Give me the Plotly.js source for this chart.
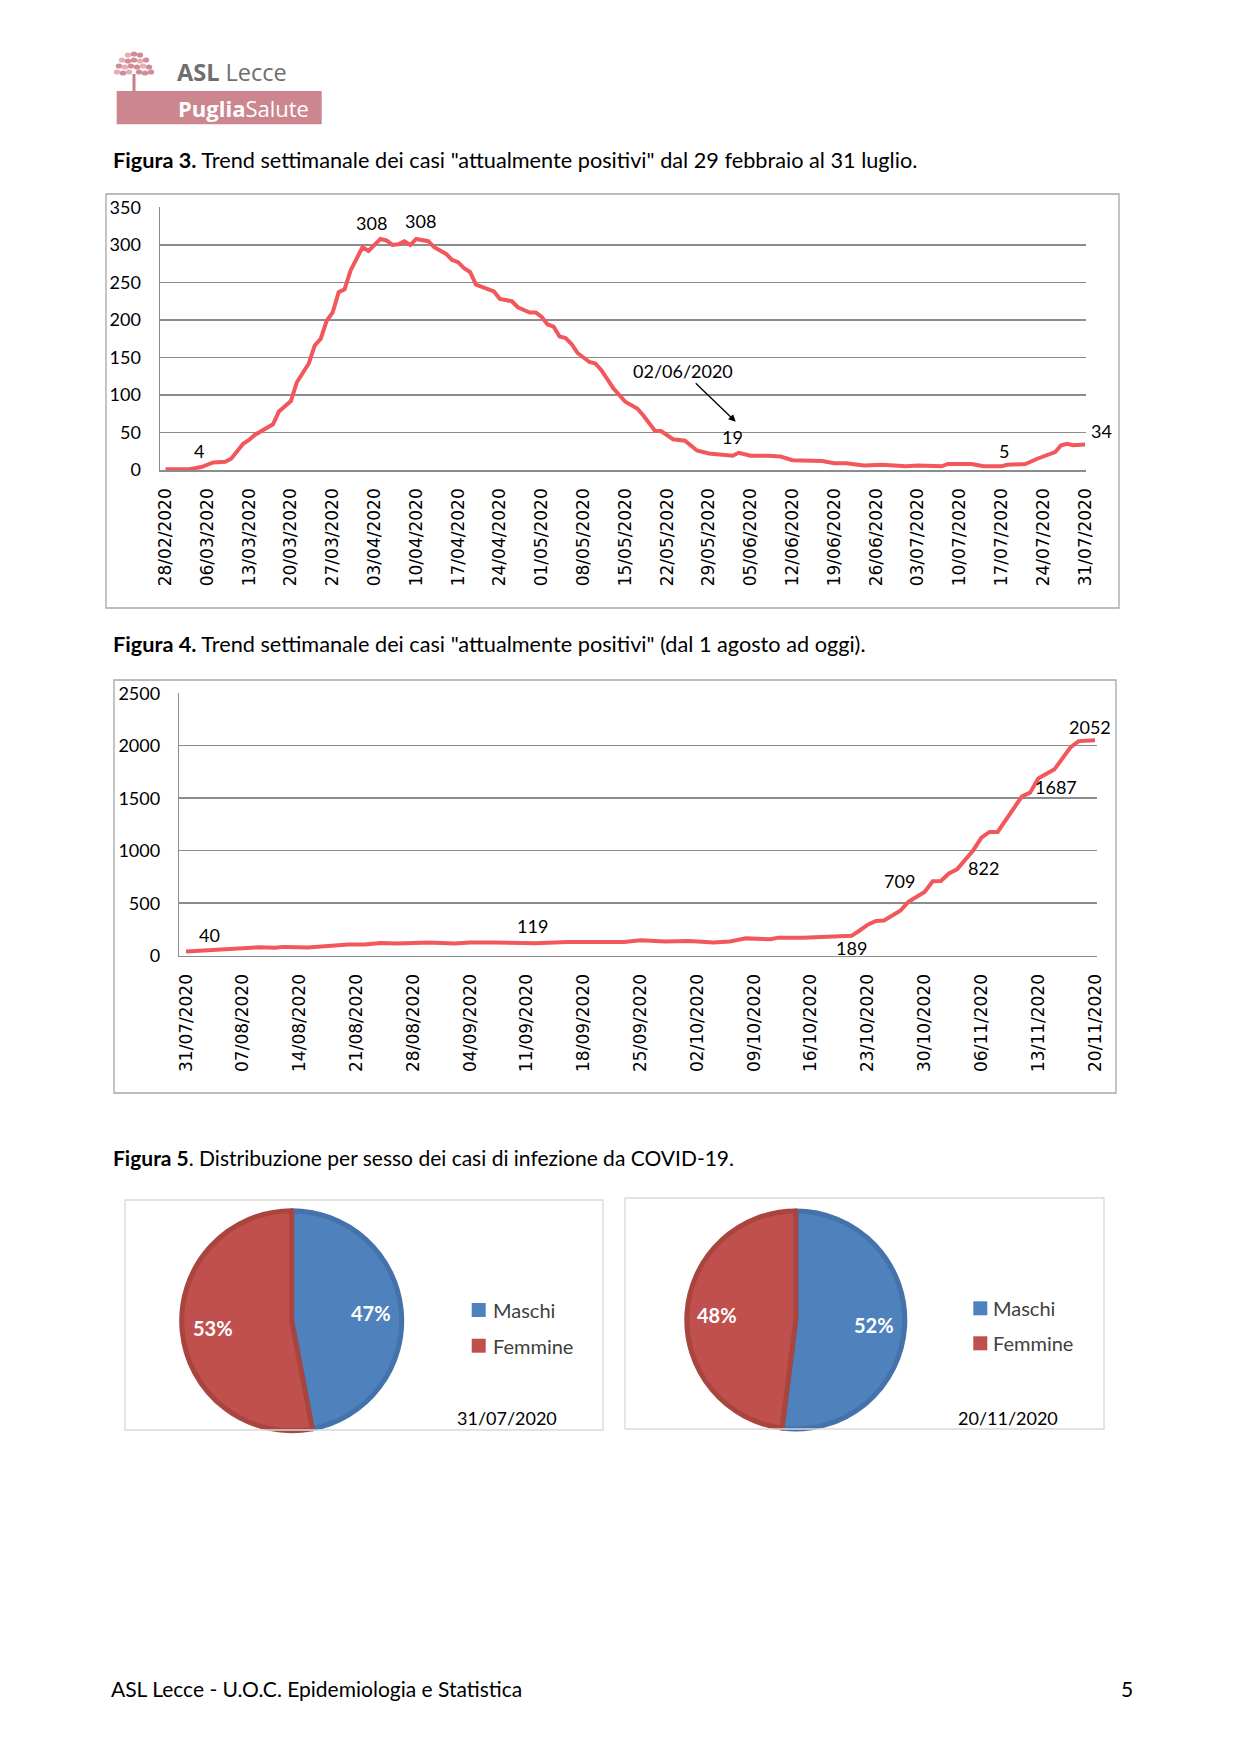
<!DOCTYPE html>
<html><head><meta charset="utf-8">
<script src="https://cdn.plot.ly/plotly-3.0.1.min.js"></script>
<style>html,body{margin:0;padding:0;background:#fff}#chart{width:1241px;height:1755px}</style>
</head><body><div id="chart"></div>
<script>
// ---------- DATA ----------
// Figura 3: attualmente positivi 28/02 - 31/07
const dates3 = ['2020-02-28','2020-03-03','2020-03-05','2020-03-07','2020-03-09','2020-03-10','2020-03-12','2020-03-13','2020-03-14','2020-03-15','2020-03-17','2020-03-18','2020-03-20','2020-03-21','2020-03-23','2020-03-24','2020-03-25','2020-03-26','2020-03-27','2020-03-28','2020-03-29','2020-03-30','2020-04-01','2020-04-02','2020-04-04','2020-04-05','2020-04-06','2020-04-07','2020-04-08','2020-04-09','2020-04-10','2020-04-12','2020-04-13','2020-04-15','2020-04-16','2020-04-17','2020-04-18','2020-04-19','2020-04-20','2020-04-21','2020-04-23','2020-04-24','2020-04-26','2020-04-27','2020-04-29','2020-04-30','2020-05-01','2020-05-02','2020-05-03','2020-05-04','2020-05-05','2020-05-06','2020-05-07','2020-05-09','2020-05-10','2020-05-11','2020-05-13','2020-05-15','2020-05-17','2020-05-18','2020-05-20','2020-05-21','2020-05-23','2020-05-25','2020-05-27','2020-05-29','2020-05-31','2020-06-02','2020-06-03','2020-06-05','2020-06-08','2020-06-10','2020-06-12','2020-06-14','2020-06-17','2020-06-19','2020-06-21','2020-06-24','2020-06-26','2020-06-27','2020-06-29','2020-07-01','2020-07-03','2020-07-07','2020-07-08','2020-07-12','2020-07-14','2020-07-17','2020-07-18','2020-07-21','2020-07-23','2020-07-26','2020-07-27','2020-07-28','2020-07-29','2020-07-31'];
const values3 = [1,1,4,10,11,15,35,40,47,52,61,78,92,117,142,166,175,199,210,237,241,266,297,292,308,306,300,301,305,300,308,305,297,288,280,277,269,264,247,244,238,228,225,217,210,210,204,194,191,178,176,168,156,144,142,133,109,91,82,73,52,52,41,39,26,22,20,19,23,19,19,18,13,13,12,9,9,6,7,7,6,5,6,5,8,8,5,5,7,8,15,24,33,35,33,34];
const ticks3 = ['28/02/2020','06/03/2020','13/03/2020','20/03/2020','27/03/2020','03/04/2020','10/04/2020','17/04/2020','24/04/2020','01/05/2020','08/05/2020','15/05/2020','22/05/2020','29/05/2020','05/06/2020','12/06/2020','19/06/2020','26/06/2020','03/07/2020','10/07/2020','17/07/2020','24/07/2020','31/07/2020'];
const labelDates3 = ['2020-03-05','2020-04-04','2020-04-10','2020-06-02','2020-07-17','2020-07-31'];
const calloutDate3 = '2020-06-02';
const calloutText3 = '02/06/2020';

// Figura 4: attualmente positivi 31/07 - 20/11
const dates4 = ['2020-07-31','2020-08-04','2020-08-07','2020-08-09','2020-08-11','2020-08-12','2020-08-15','2020-08-18','2020-08-20','2020-08-22','2020-08-24','2020-08-26','2020-08-30','2020-09-02','2020-09-04','2020-09-07','2020-09-10','2020-09-12','2020-09-16','2020-09-19','2020-09-23','2020-09-25','2020-09-28','2020-10-01','2020-10-04','2020-10-06','2020-10-08','2020-10-11','2020-10-12','2020-10-15','2020-10-18','2020-10-21','2020-10-22','2020-10-23','2020-10-24','2020-10-25','2020-10-27','2020-10-28','2020-10-30','2020-10-31','2020-11-01','2020-11-02','2020-11-03','2020-11-04','2020-11-05','2020-11-06','2020-11-07','2020-11-08','2020-11-09','2020-11-11','2020-11-12','2020-11-13','2020-11-15','2020-11-16','2020-11-17','2020-11-18','2020-11-19','2020-11-20'];
const values4 = [40,54,70,80,76,84,78,98,106,106,120,117,125,117,125,125,120,119,130,131,131,146,136,141,126,135,165,157,172,172,185,189,240,295,330,335,428,513,608,709,712,783,822,910,1005,1125,1179,1179,1290,1518,1553,1687,1775,1876,1987,2044,2052,2052];
const ticks4 = ['31/07/2020','07/08/2020','14/08/2020','21/08/2020','28/08/2020','04/09/2020','11/09/2020','18/09/2020','25/09/2020','02/10/2020','09/10/2020','16/10/2020','23/10/2020','30/10/2020','06/11/2020','13/11/2020','20/11/2020'];
const labelDates4 = ['2020-07-31','2020-09-12','2020-10-21','2020-10-31','2020-11-03','2020-11-13','2020-11-20'];

// Figura 5: distribuzione per sesso
const sexLabels = ['Maschi','Femmine'];
const pieValues1 = [47,53];
const pieValues2 = [52,48];
const pieDates = ['31/07/2020','20/11/2020'];

// ---------- STYLE / LAYOUT HELPERS ----------
const W=1241, H=1755;
const X = v => v/W, Y = v => 1 - v/H;
const toIso = s => s.split('/').reverse().join('-');
const RED = '#F2575B', GRID = '#8C8C8C';
const shifts3 = [[-2,16],[-9,16],[4,17.5],[0,19],[3,15],[16,14]];
const shifts4 = [[23,16.5],[-3,17],[0,-12.5],[-33,0],[26,1.5],[18,-8.5],[-5,13]];
const pieBlue='#4F81BD', pieRed='#C0504D';
const pieGeom = [{cx:291.7, cy:1320.8, r:110}, {cx:795.8, cy:1320, r:109}];

const ann = [];
const shapes = [];
const txt = (x,y,text,size,opts) => ann.push(Object.assign({xref:'paper',yref:'paper',x:X(x),y:Y(y),text,showarrow:false,
  xanchor:'left',yanchor:'middle',font:{family:'Lato',size,color:'#000'}},opts||{}));

const traces = [
  {type:'scatter', mode:'lines', x:dates3, y:values3, xaxis:'x', yaxis:'y',
   line:{color:RED, width:4}, hoverinfo:'skip'},
  {type:'scatter', mode:'lines', x:dates4, y:values4, xaxis:'x2', yaxis:'y2',
   line:{color:RED, width:4}, hoverinfo:'skip'}
];
[pieValues1, pieValues2].forEach((vals,k)=>{
  const g = pieGeom[k];
  traces.push({type:'pie', values:vals, labels:sexLabels, sort:false, direction:'clockwise', rotation:0,
    domain:{x:[X(g.cx-g.r),X(g.cx+g.r)], y:[Y(g.cy+g.r),Y(g.cy-g.r)]},
    marker:{colors:[pieBlue,pieRed], line:{color:['#4472AA','#A9443F'], width:5}},
    textinfo:'none', hoverinfo:'skip'});
  // percentage labels placed along each slice's bisector
  const tot = vals.reduce((a,b)=>a+b,0);
  let acc = 0;
  vals.forEach(v=>{
    const mid = (acc + v/2)/tot*2*Math.PI; acc += v;
    const rr = g.r*0.72;
    txt(g.cx + rr*Math.sin(mid), g.cy - rr*Math.cos(mid), '<b>'+Math.round(v/tot*100)+'%</b>', 20,
      {xanchor:'center', font:{family:'Lato', size:20, color:'#fff'}});
  });
});

// header logo text
txt(175,72,'<b>ASL</b> Lecce',23.5,{font:{family:'Open Sans',size:23.5,color:'#6E6E6E'}});
txt(176,108,'<b>Puglia</b>Salute',22,{font:{family:'Open Sans',size:22,color:'#FFFFFF'}});
// figure titles
txt(110.8,160,'<b>Figura 3.</b> Trend settimanale dei casi "attualmente positivi" dal 29 febbraio al 31 luglio.',21.7);
txt(110.8,643.5,'<b>Figura 4.</b> Trend settimanale dei casi "attualmente positivi" (dal 1 agosto ad oggi).',21.7);
txt(110.8,1157,'<b>Figura 5</b>. Distribuzione per sesso dei casi di infezione da COVID-19.',21);
// footer
txt(108.5,1688.6,'ASL Lecce - U.O.C. Epidemiologia e Statistica',21);
txt(1127,1688.6,'5',21,{xanchor:'center'});

// data labels fig 3
labelDates3.forEach((d,i)=>{
  const v = values3[dates3.indexOf(d)];
  ann.push({xref:'x',yref:'y',x:d,y:v,text:String(v),showarrow:false,xshift:shifts3[i][0],yshift:shifts3[i][1],
    font:{family:'Lato',size:18,color:'#000'}});
});
// callout arrow fig 3
{
  const v = values3[dates3.indexOf(calloutDate3)];
  ann.push({xref:'x',yref:'y',x:calloutDate3,y:v,text:calloutText3,showarrow:true,xshift:3,yshift:34,
    ax:-53,ay:-51,arrowhead:2,arrowsize:1.1,arrowwidth:1.3,arrowcolor:'#000',
    font:{family:'Lato',size:18,color:'#000'}});
}
// data labels fig 4
labelDates4.forEach((d,i)=>{
  const v = values4[dates4.indexOf(d)];
  ann.push({xref:'x2',yref:'y2',x:d,y:v,text:String(v),showarrow:false,xshift:shifts4[i][0],yshift:shifts4[i][1],
    font:{family:'Lato',size:18,color:'#000'}});
});
// pie legends & dates
const legendPos = [{sx:471.7, tx:490.5, y:[1310,1345.7], dx:506.7, dy:1418.3},
                   {sx:973.3, tx:991, y:[1308.3,1343.3], dx:1008.3, dy:1418.3}];
const rectPx = (x0,y0,x1,y1,line,fill) => shapes.push({type:'rect',xref:'paper',yref:'paper',x0:X(x0),x1:X(x1),y0:Y(y1),y1:Y(y0),
   line:line||{width:0}, fillcolor:fill||'rgba(0,0,0,0)'});
legendPos.forEach((p,k)=>{
  sexLabels.forEach((lab,i)=>{
    rectPx(p.sx,p.y[i]-7,p.sx+14,p.y[i]+7,{width:0},i===0?pieBlue:pieRed);
    txt(p.tx,p.y[i],lab,20,{font:{family:'Lato',size:20,color:'#404040'}});
  });
  txt(p.dx,p.dy,pieDates[k],18,{xanchor:'center'});
});

// boxes
rectPx(106,194,1119,608,{color:'#A6A6A6',width:1.3});
rectPx(114,680,1116,1093,{color:'#A6A6A6',width:1.3});
rectPx(125,1200,603,1430,{color:'#D9D9D9',width:1.3});
rectPx(625,1198,1104,1429,{color:'#D9D9D9',width:1.3});

// logo: pink band
rectPx(116.7,91,321.7,124.3,{width:0},'#CC868F');
// logo tree
shapes.push({type:'rect',xref:'paper',yref:'paper',x0:X(132.5),x1:X(135.5),y0:Y(91),y1:Y(74),line:{width:0},fillcolor:'#C97F89'});
const leaves = [[128,55],[134,54],[140,55],[122,60],[128,61],[134,60],[140,61],[146,60],[119,66],[125,67],[131,66],[137,67],[143,66],[149,67],[123,73],[129,72],[139,72],[145,73],[117,72],[151,72]];
leaves.forEach((p,i)=>{
  shapes.push({type:'circle',xref:'paper',yref:'paper',x0:X(p[0]-3.2),x1:X(p[0]+3.2),y0:Y(p[1]+2.6),y1:Y(p[1]-2.6),
    line:{width:0},fillcolor:i%3===0?'#E3AEB5':'#D28C96'});
});

const tickFontX = {family:'DejaVu Sans', size:17, color:'#000'};
const tickFontY = {family:'Lato', size:18, color:'#000'};

const layout = {
  width:W, height:H, margin:{l:0,r:0,t:0,b:0}, paper_bgcolor:'#fff', plot_bgcolor:'rgba(0,0,0,0)',
  showlegend:false,
  xaxis:{domain:[X(160),X(1085.7)], anchor:'y', type:'date', range:['2020-02-27 01:54','2020-07-31 02:40'],
    tickvals:ticks3.map(toIso), ticktext:ticks3, tickangle:-90, tickfont:tickFontX, ticks:'', ticklabelstandoff:10,
    showgrid:false, showline:true, linecolor:GRID, linewidth:1.5, zeroline:false, fixedrange:true},
  yaxis:{domain:[Y(470),Y(206.7)], anchor:'x', range:[0,351], tick0:0, dtick:50, tickfont:tickFontY,
    ticks:'', ticklabelstandoff:14, showgrid:true, gridcolor:GRID, gridwidth:1.5, showline:true, linecolor:GRID,
    linewidth:1.5, zeroline:false, fixedrange:true},
  xaxis2:{domain:[X(179.3),X(1097.3)], anchor:'y2', type:'date', range:['2020-07-30 04:05','2020-11-20 06:43'],
    tickvals:ticks4.map(toIso), ticktext:ticks4, tickangle:-90, tickfont:tickFontX, ticks:'', ticklabelstandoff:10,
    showgrid:false, showline:true, linecolor:GRID, linewidth:1.5, zeroline:false, fixedrange:true},
  yaxis2:{domain:[Y(955.7),Y(692.7)], anchor:'x2', range:[0,2505], tick0:0, dtick:500, tickfont:tickFontY,
    ticks:'', ticklabelstandoff:14, showgrid:true, gridcolor:GRID, gridwidth:1.5, showline:true, linecolor:GRID,
    linewidth:1.5, zeroline:false, fixedrange:true},
  annotations:ann, shapes:shapes
};

Plotly.newPlot('chart', traces, layout, {displayModeBar:false, staticPlot:true});
</script></body></html>
